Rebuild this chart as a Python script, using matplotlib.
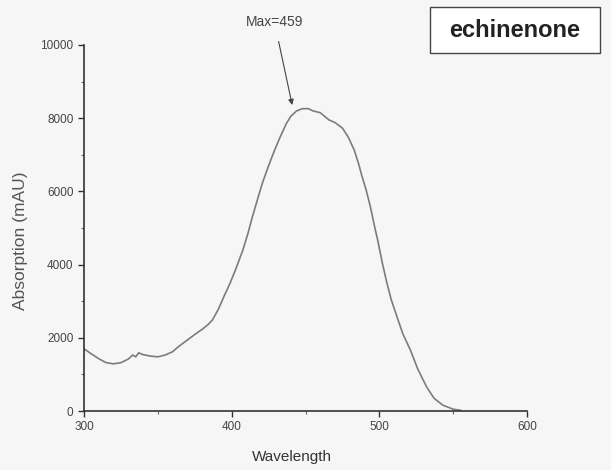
import matplotlib.pyplot as plt
from matplotlib.patches import Rectangle
from matplotlib.ticker import MultipleLocator

wavelength = [300, 305, 310, 315, 320, 325, 330, 333, 335, 337, 340, 345, 350,
              355, 360, 364, 368, 372, 376, 380, 384, 387, 391, 395, 399, 403,
              407.6, 411, 414, 418, 421, 425, 429, 433, 437, 440, 444, 448, 452,
              455, 460, 466, 470, 475, 479, 483, 486, 488, 491, 494, 497, 499,
              502, 505, 508, 512, 516, 521, 526, 532, 537, 543, 550, 555]
absorption = [1700, 1560, 1430, 1320, 1290, 1320, 1420, 1530, 1480, 1590, 1540,
              1500, 1480, 1530, 1620, 1760, 1880, 2000, 2120, 2230, 2360, 2490,
              2780, 3150, 3500, 3900, 4400, 4850, 5300, 5850, 6250, 6700, 7120,
              7500, 7850, 8050, 8200, 8260, 8260, 8200, 8150, 7950, 7880, 7730,
              7480, 7130, 6750, 6450, 6050, 5570, 5000, 4650, 4050, 3520, 3050,
              2570, 2100, 1670, 1150, 660, 350, 160, 50, 20]

peak_label = "Max=459"
compound = "echinenone"

plt.rcParams['font.family'] = ['Liberation Sans', 'DejaVu Sans']

fig = plt.figure(figsize=(6.11, 4.70), dpi=100, facecolor='#f6f6f6')
ax = fig.add_axes([0.1375, 0.1255, 0.725, 0.7788], facecolor='#f6f6f6')

ax.plot(wavelength, absorption, color='#7c7c7c', linewidth=1.2)

ax.set_xlim(300, 600)
ax.set_ylim(0, 10000)
ax.xaxis.set_major_locator(MultipleLocator(100))
ax.xaxis.set_minor_locator(MultipleLocator(50))
ax.yaxis.set_major_locator(MultipleLocator(2000))
ax.yaxis.set_minor_locator(MultipleLocator(1000))

for side in ['top', 'right']:
    ax.spines[side].set_visible(False)
for side in ['left', 'bottom']:
    ax.spines[side].set_color('#333333')
    ax.spines[side].set_linewidth(1.2)

ax.tick_params(which='major', length=4, width=1, colors='#333333',
               labelsize=8.5, labelcolor='#444444')
ax.tick_params(which='minor', length=2, width=0.8, colors='#666666')

ax.set_xlabel("Wavelength", fontsize=11, color='#333333')
ax.set_ylabel("Absorption (mAU)", fontsize=12.5, color='#555555')
ax.xaxis.set_label_coords(0.4695, -0.106)
ax.yaxis.set_label_coords(-0.126, 0.466)

ax.annotate(peak_label, xy=(441, 8360), xytext=(429, 10620),
            ha='center', va='center', fontsize=10, color='#444444',
            annotation_clip=False,
            arrowprops=dict(arrowstyle='-|>', color='#444444', lw=0.8,
                            mutation_scale=8, shrinkA=7, shrinkB=0))

fig.patches.append(Rectangle((0.7038, 0.8872), 0.2782, 0.098,
                             transform=fig.transFigure, facecolor='white',
                             edgecolor='#444444', linewidth=1.0))
fig.text(0.8429, 0.936, compound, ha='center', va='center', fontsize=17,
         color='#222222', fontweight='bold')

fig.savefig("out.png", dpi=100, facecolor=fig.get_facecolor())
